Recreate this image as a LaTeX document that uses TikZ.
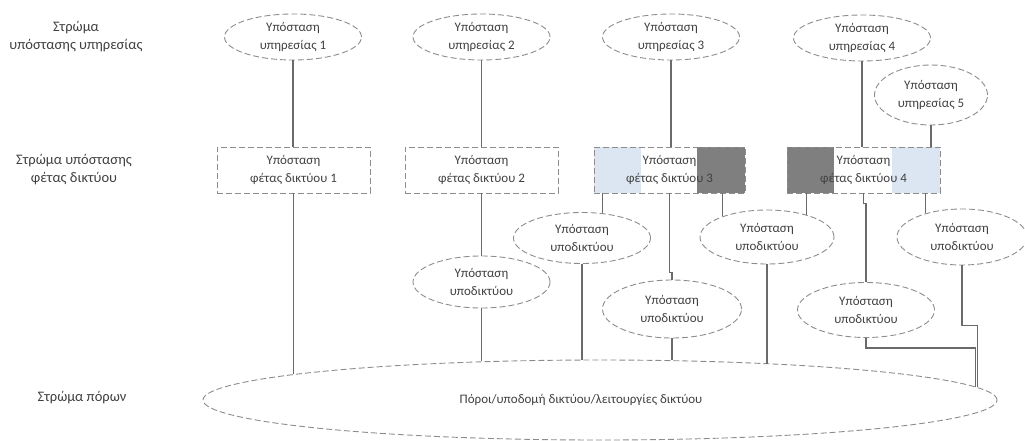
\documentclass[tikz,border=0pt]{standalone}
\usepackage{fontspec}
\setmainfont{Carlito}
\usetikzlibrary{shapes.geometric}

\definecolor{txtc}{HTML}{404040}
\definecolor{dashc}{HTML}{8C8C8C}
\definecolor{wirec}{HTML}{6A6A6A}
\definecolor{dedicated}{HTML}{DCE6F2}
\definecolor{shared}{HTML}{7F7F7F}

\begin{document}
\begin{tikzpicture}[x=1pt,y=-1pt,
  every node/.style={font=\fontsize{13}{18}\selectfont, text=txtc, align=center, inner sep=0pt},
  layerlabel/.style={font=\fontsize{14.5}{18}\selectfont},
  dashedline/.style={draw=dashc, line width=0.9pt, dash pattern=on 6pt off 3pt},
  svcinst/.style={ellipse, dashedline, minimum width=137pt, minimum height=46pt},
  subinst/.style={ellipse, dashedline, minimum width=137pt, minimum height=52pt},
  sliceinst/.style={rectangle, dashedline, minimum width=153pt, minimum height=46pt},
  wire/.style={draw=wirec, line width=1.1pt}
]
\useasboundingbox (0,0) rectangle (1025,441);

% layer labels
\node[layerlabel] (lsvc)   at (76,37)  {Στρώμα\\υπόστασης υπηρεσίας};
\node[layerlabel] (lslice) at (74,170) {Στρώμα υπόστασης\\φέτας δικτύου};
\node[layerlabel] (lres)   at (82,398) {Στρώμα πόρων};

% service instances
\node[svcinst] (svc1) at (293,37) {Υπόσταση\\υπηρεσίας 1};
\node[svcinst] (svc2) at (481.5,37) {Υπόσταση\\υπηρεσίας 2};
\node[svcinst] (svc3) at (671,37) {Υπόσταση\\υπηρεσίας 3};
\node[svcinst] (svc4) at (862,38) {Υπόσταση\\υπηρεσίας 4};
\node[svcinst, minimum width=113pt, minimum height=60pt] (svc5) at (931,95) {Υπόσταση\\υπηρεσίας 5};

% coloured parts of the slice instances 3 and 4
\fill[dedicated] (594,147) rectangle (641,193);
\fill[shared]    (697,147) rectangle (745,193);
\fill[shared]    (787,147) rectangle (834,193);
\fill[dedicated] (892,147) rectangle (940,193);

% network slice instances
\node[sliceinst] (s1) at (293.5,170) {Υπόσταση\\φέτας δικτύου 1};
\node[sliceinst] (s2) at (481.5,170) {Υπόσταση\\φέτας δικτύου 2};
\node[sliceinst, minimum width=151pt] (s3) at (669.5,170) {Υπόσταση\\φέτας δικτύου 3};
\node[sliceinst] (s4) at (863.5,170) {Υπόσταση\\φέτας δικτύου 4};

% subnetwork instances
\node[subinst] (sub2)  at (481.5,282) {Υπόσταση\\υποδικτύου};
\node[subinst, minimum height=51pt] (sub3l) at (582,238) {Υπόσταση\\υποδικτύου};
\node[subinst, minimum width=139pt, minimum height=58pt] (sub3m) at (672,309) {Υπόσταση\\υποδικτύου};
\node[subinst, minimum width=134pt, minimum height=54pt] (sub3r) at (767,237) {Υπόσταση\\υποδικτύου};
\node[subinst, minimum height=55pt] (sub4m) at (866,310) {Υπόσταση\\υποδικτύου};
\node[subinst, minimum width=130pt, minimum height=56pt] (sub4r) at (962,237) {Υπόσταση\\υποδικτύου};

% resource layer (text set a little left of the centre)
\node[ellipse, dashedline, minimum width=794pt, minimum height=80pt] (res) at (600,400)
  {\hspace*{-38pt}Πόροι/υποδομή δικτύου/λειτουργίες δικτύου};

% service instance -> slice instance
\draw[wire] (svc1.south) -- (svc1.south |- s1.north);
\draw[wire] (svc2.south) -- (svc2.south |- s2.north);
\draw[wire] (svc3.south) -- (svc3.south |- s3.north);
\draw[wire] (svc4.south) -- (svc4.south |- s4.north);
\draw[wire] (svc5.south) -- (svc5.south |- s4.north);

% slice instance -> subnetwork instance
\draw[wire] (s2.south) -- (s2.south |- sub2.north);
\draw[wire] (sub3l.50.66 |- s3.south) -- (sub3l.50.66);
\draw[wire] (s3.south) -- ++(0,79) -| (sub3m.north);
\draw[wire] (sub3r.155.17 |- s3.south) -- (sub3r.155.17);
\draw[wire] (sub3r.29.37 |- s4.south) -- (sub3r.29.37);
\draw[wire] (s4.south) -- ++(0,10) -| (sub4m.north);
\draw[wire] (sub4r.147.26 |- s4.south) -- (sub4r.147.26);

% links down to the resource layer
\draw[wire] (s1.south) -- (s1.south |- res.175.27);
\draw[wire] (sub2.south) -- (sub2.south |- res.162.06);
\draw[wire] (sub3l.south) -- (sub3l.south |- res.114.25);
\draw[wire] (sub3m.south) -- (sub3m.south |- res.28.65);
\draw[wire] (sub3r.south) -- (sub3r.south |- res.12.43);
\draw[wire] (sub4m.south) -- ++(0,10) -| (res.2.34);
\draw[wire] (sub4r.south) -- ++(0,60) -| ([xshift=1.2pt]res.2.34);
\end{tikzpicture}
\end{document}
